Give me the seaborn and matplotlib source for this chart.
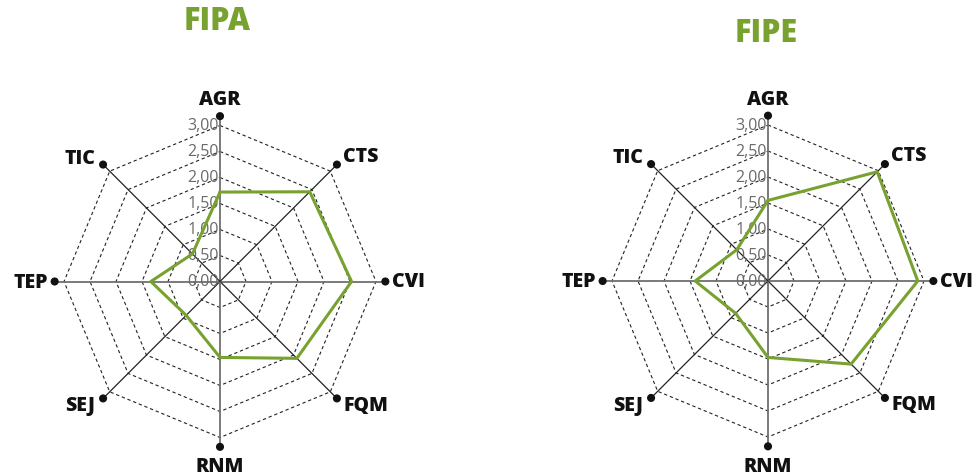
import numpy as np
import pandas as pd
import matplotlib
matplotlib.use("Agg")
import matplotlib.pyplot as plt
import seaborn as sns

# ---- data ----
categories = ["AGR", "CTS", "CVI", "FQM", "RNM", "SEJ", "TEP", "TIC"]
fipa_values = [1.72, 2.44, 2.53, 2.09, 1.46, 0.92, 1.33, 0.75]
fipe_values = [1.55, 2.97, 2.88, 2.26, 1.47, 0.88, 1.40, 0.85]
tick_values = [0.0, 0.5, 1.0, 1.5, 2.0, 2.5, 3.0]
tick_labels = ["0,00", "0,50", "1,00", "1,50", "2,00", "2,50", "3,00"]
titles = ["FIPA", "FIPE"]

sns.set_theme(style="white")
plt.rcParams["font.family"] = ["Open Sans", "DejaVu Sans"]

GREEN = "#78a22f"
W, H = 974, 477
PX_PER_UNIT = 52.0
HALF = 3.75  # half-range of axes in data units

fig = plt.figure(figsize=(W / 100, H / 100), dpi=100)

centers_px = [(220, 282.5), (768, 282)]
title_px = [(217.5, 22), (766, 34)]
series = [fipa_values, fipe_values]

n = len(categories)
angles = np.deg2rad(90 - 45 * np.arange(n))
dot_r = 3.18

# label offsets (points) and alignment for each category
label_cfg = {
    "AGR": (0, 12, "center"),
    "CTS": (4.5, 6.5, "left"),
    "CVI": (4.5, 0, "left"),
    "FQM": (4.5, -4.7, "left"),
    "RNM": (0, -14, "center"),
    "SEJ": (-5.5, -5, "right"),
    "TEP": (-4.8, 0, "right"),
    "TIC": (-5.5, 5, "right"),
}

for i, (cx, cy) in enumerate(centers_px):
    half_px = HALF * PX_PER_UNIT
    ax = fig.add_axes([(cx - half_px) / W, (H - cy - half_px) / H,
                       2 * half_px / W, 2 * half_px / H])
    ax.set_xlim(-HALF, HALF)
    ax.set_ylim(-HALF, HALF)
    ax.set_axis_off()

    # octagonal dashed grid
    for lv in tick_values[1:]:
        gx = np.append(lv * np.cos(angles), lv * np.cos(angles[0]))
        gy = np.append(lv * np.sin(angles), lv * np.sin(angles[0]))
        ax.plot(gx, gy, color="#222222", lw=0.8, ls=(0, (3, 2.5)), zorder=1)

    # spokes
    for k, a in enumerate(angles):
        diag = k % 2 == 1
        ax.plot([0, dot_r * np.cos(a)], [0, dot_r * np.sin(a)],
                color="#222222" if diag else "#707070",
                lw=0.9 if diag else 1.3, zorder=2)

    # end dots
    dots = pd.DataFrame({"x": dot_r * np.cos(angles), "y": dot_r * np.sin(angles)})
    sns.scatterplot(data=dots, x="x", y="y", color="#111111", s=34,
                    edgecolor="none", ax=ax, zorder=4, legend=False)

    # tick labels
    for v, t in zip(tick_values, tick_labels):
        ax.text(-0.02, v, t, ha="right", va="center", fontsize=11.5,
                color="#6a6a6a", zorder=3)

    # data polygon
    vals = series[i]
    df = pd.DataFrame({
        "x": [v * np.cos(a) for v, a in zip(vals, angles)] + [vals[0] * np.cos(angles[0])],
        "y": [v * np.sin(a) for v, a in zip(vals, angles)] + [vals[0] * np.sin(angles[0])],
    })
    sns.lineplot(data=df, x="x", y="y", sort=False, estimator=None,
                 color=GREEN, lw=2.2, ax=ax, zorder=5)
    ax.set_xlabel("")
    ax.set_ylabel("")

    # category labels
    for cat, a in zip(categories, angles):
        dx, dy, ha = label_cfg[cat]
        ax.annotate(cat, (dot_r * np.cos(a), dot_r * np.sin(a)),
                    xytext=(dx, dy), textcoords="offset points",
                    ha=ha, va="center", fontsize=14, fontweight=800,
                    color="#111111", annotation_clip=False)

    tx, ty = title_px[i]
    fig.text(tx / W, 1 - ty / H, titles[i], ha="center", va="center",
             fontsize=22, fontweight=800, color=GREEN)

fig.savefig("out.png", dpi=100)
